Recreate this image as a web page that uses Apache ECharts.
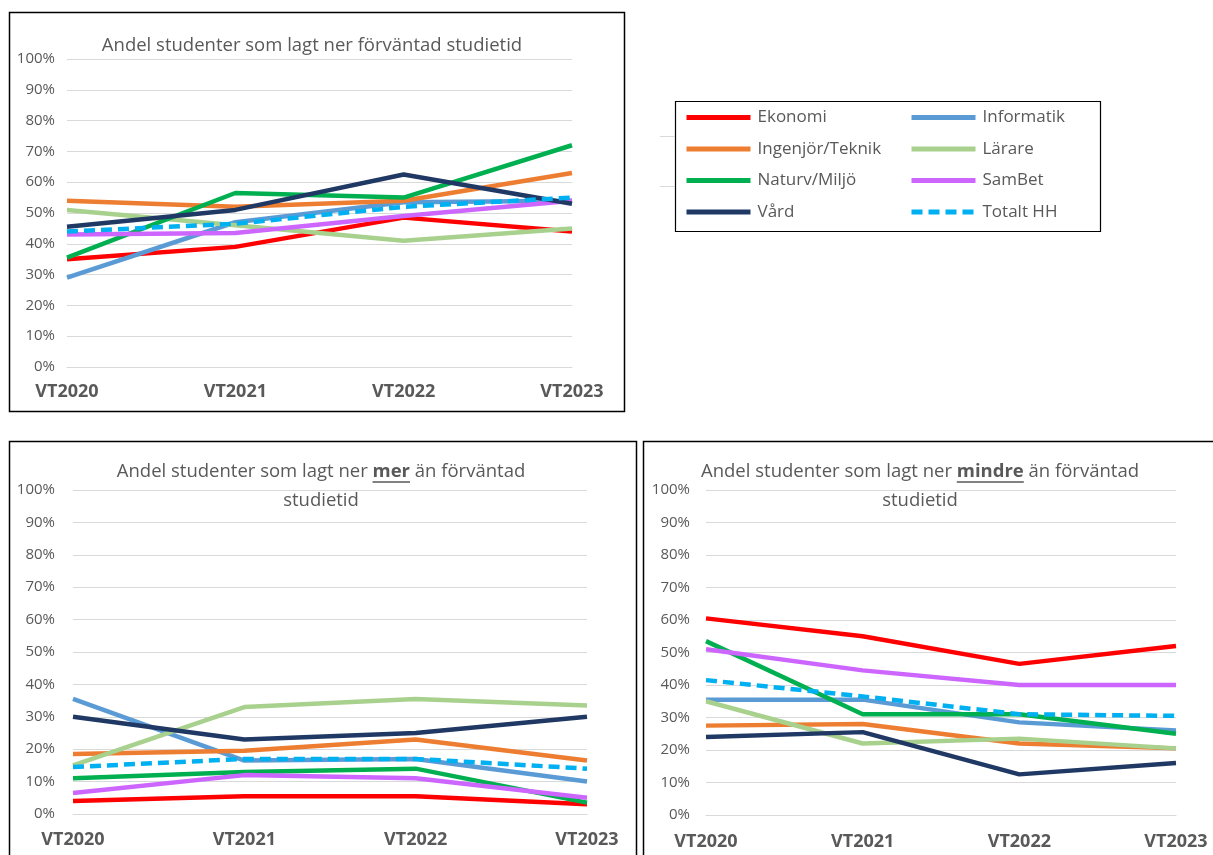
<!DOCTYPE html>
<html><head><meta charset="utf-8">
<script src="https://cdn.jsdelivr.net/npm/echarts@6/dist/echarts.min.js"></script>
<style>html,body{margin:0;padding:0;background:#fff}#c{width:1213px;height:855px}</style>
</head><body><div id="c"></div>
<script>
const categories = ['VT2020', 'VT2021', 'VT2022', 'VT2023'];
const seriesNames = ['Ekonomi', 'Informatik', 'Ingenjör/Teknik', 'Lärare', 'Naturv/Miljö', 'SamBet', 'Vård', 'Totalt HH'];
const seriesColors = ['#FF0000', '#5B9BD5', '#ED7D31', '#A9D18E', '#00B050', '#CC66FF', '#203864', '#00B0F0'];
const legendColLeft = ['Ekonomi', 'Ingenjör/Teknik', 'Naturv/Miljö', 'Vård'];
const legendColRight = ['Informatik', 'Lärare', 'SamBet', 'Totalt HH'];

// Andel studenter som lagt ner förväntad studietid (%)
const forvantad = [
  [35, 39, 48.5, 44],
  [29, 47, 53.5, 54],
  [54, 52, 54, 63],
  [51, 46, 41, 45],
  [35.5, 56.5, 55, 72],
  [43, 43.5, 49, 54],
  [45.5, 51, 62.5, 53],
  [44, 46.5, 52, 55]
];
// ... mer än förväntad studietid (%)
const mer = [
  [4, 5.5, 5.5, 3],
  [35.5, 16.5, 17, 10],
  [18.5, 19.5, 23, 16.5],
  [15, 33, 35.5, 33.5],
  [11, 13, 14, 3.5],
  [6.5, 12, 11, 5],
  [30, 23, 25, 30],
  [14.5, 17, 17, 14]
];
// ... mindre än förväntad studietid (%)
const mindre = [
  [60.5, 55, 46.5, 52],
  [35.5, 35.5, 28.5, 26],
  [27.5, 28, 22, 20.5],
  [35, 22, 23.5, 20.5],
  [53.5, 31, 31, 25],
  [51, 44.5, 40, 40],
  [24, 25.5, 12.5, 16],
  [41.5, 36.5, 31, 30.5]
];

const FONT = '"Open Sans", "Noto Sans", sans-serif';
const GREY = '#595959';
const TITLE_SIZE = 18.5;

function textWidth(str, weight) {
  const ctx = document.createElement('canvas').getContext('2d');
  ctx.font = weight + ' ' + TITLE_SIZE + 'px "Open Sans"';
  return ctx.measureText(str).width;
}
function underline(cx, y, pre, word, post) {
  const total = textWidth(pre, 'normal') + textWidth(word, 'bold') + textWidth(post, 'normal');
  const x0 = cx - total / 2 + textWidth(pre, 'normal');
  const x1 = x0 + textWidth(word, 'bold');
  return { type: 'line', shape: { x1: x0, y1: y, x2: x1, y2: y }, style: { stroke: GREY, lineWidth: 1.3 }, silent: true };
}

const grids = [
  { left: 67, top: 59, width: 505, height: 308 },
  { left: 73, top: 490, width: 514, height: 324 },
  { left: 706, top: 490, width: 470, height: 325 }
];
const yMargins = [12, 18, 16];
const xMargins = [16, 17, 18];
const datasets = [forvantad, mer, mindre];

const xAxes = grids.map((g, i) => ({
  type: 'category', gridIndex: i, data: categories, boundaryGap: false,
  axisLine: { show: true, lineStyle: { color: '#D9D9D9', width: 1 } },
  axisTick: { show: false },
  axisLabel: { margin: xMargins[i], color: GREY, fontFamily: FONT, fontWeight: 'bold', fontSize: 18, interval: 0 }
}));
const yAxes = grids.map((g, i) => ({
  type: 'value', gridIndex: i, min: 0, max: 100, interval: 10,
  axisLine: { show: false }, axisTick: { show: false },
  splitLine: { lineStyle: { color: '#D9D9D9', width: 1 } },
  axisLabel: { margin: yMargins[i], color: GREY, fontFamily: FONT, fontSize: 15, formatter: '{value}%' }
}));

const series = [];
datasets.forEach((ds, gi) => {
  seriesNames.forEach((name, si) => {
    series.push({
      name: name, type: 'line', xAxisIndex: gi, yAxisIndex: gi,
      data: ds[si], symbol: 'none', silent: true,
      lineStyle: { color: seriesColors[si], width: 4.5, type: name === 'Totalt HH' ? [11, 6] : 'solid' },
      itemStyle: { color: seriesColors[si] },
      z: 2 + si
    });
  });
});

const legendCommon = {
  orient: 'vertical', top: 109, padding: 0, itemWidth: 64, itemHeight: 14, itemGap: 14.5,
  selectedMode: false,
  itemStyle: { opacity: 0 },
  lineStyle: { width: 5 },
  textStyle: { color: GREY, fontFamily: FONT, fontSize: 17, padding: [0, 0, 0, 2] }
};

const titleText = { color: GREY, fontFamily: FONT, fontSize: TITLE_SIZE, fontWeight: 'normal', lineHeight: 29 };
const richU = { u: { fontWeight: 'bold', color: GREY, fontFamily: FONT, fontSize: TITLE_SIZE, lineHeight: 29 } };

const option = {
  animation: false,
  backgroundColor: '#fff',
  title: [
    { text: 'Andel studenter som lagt ner förväntad studietid', left: 312, top: 31, textAlign: 'center', padding: 0,
      textStyle: Object.assign({}, titleText) },
    { text: 'Andel studenter som lagt ner {u|mer} än förväntad\nstudietid', left: 321, top: 457, textAlign: 'center', padding: 0,
      textStyle: Object.assign({ rich: richU }, titleText) },
    { text: 'Andel studenter som lagt ner {u|mindre} än förväntad\nstudietid', left: 920, top: 457, textAlign: 'center', padding: 0,
      textStyle: Object.assign({ rich: richU }, titleText) }
  ],
  legend: [
    Object.assign({ left: 684, data: legendColLeft }, legendCommon),
    Object.assign({ left: 909, data: legendColRight }, legendCommon)
  ],
  grid: grids,
  xAxis: xAxes,
  yAxis: yAxes,
  series: series,
  graphic: [
    { type: 'rect', shape: { x: 9.5, y: 12.5, width: 615, height: 399 }, style: { fill: 'none', stroke: '#000', lineWidth: 1.5 }, silent: true },
    { type: 'rect', shape: { x: 9.5, y: 441.5, width: 627, height: 500 }, style: { fill: 'none', stroke: '#000', lineWidth: 1.5 }, silent: true },
    { type: 'rect', shape: { x: 643.5, y: 441.5, width: 700, height: 500 }, style: { fill: 'none', stroke: '#000', lineWidth: 1.5 }, silent: true },
    { type: 'line', shape: { x1: 660, y1: 136.5, x2: 675, y2: 136.5 }, style: { stroke: '#D9D9D9', lineWidth: 1 }, silent: true },
    { type: 'line', shape: { x1: 660, y1: 186.5, x2: 675, y2: 186.5 }, style: { stroke: '#D9D9D9', lineWidth: 1 }, silent: true },
    { type: 'rect', shape: { x: 675.5, y: 101.5, width: 425, height: 130 }, style: { fill: '#fff', stroke: '#000', lineWidth: 1.2 }, z: -1, silent: true },
    underline(321, 482, 'Andel studenter som lagt ner ', 'mer', ' än förväntad'),
    underline(920, 482, 'Andel studenter som lagt ner ', 'mindre', ' än förväntad')
  ]
};

const chart = echarts.init(document.getElementById('c'), null, { renderer: 'canvas' });
chart.setOption(option);
</script>
</body></html>
